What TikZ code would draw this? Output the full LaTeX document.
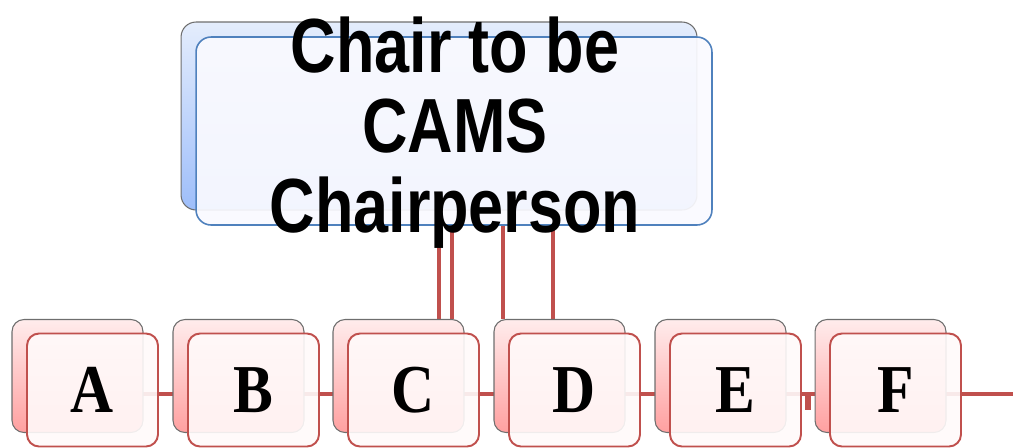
\documentclass[tikz,border=0pt]{standalone}
\usepackage{fontspec}
\setmainfont{Liberation Serif}
\newfontfamily\chairfont[FakeStretch=0.82]{Liberation Sans}
\newfontfamily\seatfont[FakeStretch=0.87]{Liberation Serif}
\usetikzlibrary{backgrounds}
\definecolor{camsred}{RGB}{192,80,77}
\definecolor{camsblue}{RGB}{79,129,189}
\definecolor{pinklt}{RGB}{255,236,236}
\definecolor{pinkdk}{RGB}{255,160,160}
\definecolor{bluelt}{RGB}{228,237,252}
\definecolor{bluedk}{RGB}{158,190,250}
\definecolor{rimgray}{RGB}{110,110,110}
\tikzset{
	seatback/.style={draw=rimgray,line width=0.6pt,rounded corners=0.24cm,
		minimum width=2.62cm,minimum height=2.26cm,
		top color=pinklt,bottom color=pinkdk},
	seat/.style={draw=camsred,line width=1.1pt,rounded corners=0.24cm,
		minimum width=2.62cm,minimum height=2.26cm,
		fill=red!2,fill opacity=0.9,text opacity=1,
		font=\seatfont\bfseries\fontsize{39pt}{39pt}\selectfont},
	chairback/.style={draw=rimgray,line width=0.6pt,rounded corners=0.3cm,
		minimum width=10.32cm,minimum height=3.76cm,
		top color=bluelt,bottom color=bluedk},
	chairbox/.style={draw=camsblue,line width=0.9pt,rounded corners=0.3cm,
		minimum width=10.32cm,minimum height=3.76cm,
		fill=blue!2,fill opacity=0.92},
	chairtext/.style={align=center,inner sep=0pt,
		font=\chairfont\bfseries\fontsize{43.7pt}{45.5pt}\selectfont},
	link/.style={draw=camsred,line width=2.6pt}
}

\begin{document}
\begin{tikzpicture}[x=0.02cm,y=-0.02cm]
		\useasboundingbox (0,0) rectangle (1013,447);
		% chairperson
		\node[chairback] (chairbk) at (439,116) {};
		\node[chairbox] (chair) at (454,131) {};
		\node[chairtext] (chairlbl) at (455,132.5) {Chair to be\\CAMS\\Chairperson};
		% seats A to F
		\node[seatback] (abk) at (77.5,376) {};
		\node[seat] (a) at (92.5,390) {A};
		\node[seatback] (bbk) at (238.5,376) {};
		\node[seat] (b) at (253.5,390) {B};
		\node[seatback] (cbk) at (398.5,376) {};
		\node[seat] (c) at (413.5,390) {C};
		\node[seatback] (dbk) at (559.5,376) {};
		\node[seat] (d) at (574.5,390) {D};
		\node[seatback] (ebk) at (720.5,376) {};
		\node[seat] (e) at (735.5,390) {E};
		\node[seatback] (fbk) at (880.5,376) {};
		\node[seat] (f) at (895.5,390) {F};
		\coordinate (rowend) at (1013,394);
		\coordinate (stub) at (808,410);
		\begin{scope}[on background layer]
			\draw[link] (a.center |- rowend) -- (rowend);
			\draw[link,line width=3.6pt] (stub |- rowend) -- (stub);
			\draw[link] (439,0 |- chair.south) -- (439,0 |- cbk.north);
			\draw[link] (452,0 |- chair.south) -- (452,0 |- cbk.north);
			\draw[link] (503,0 |- chair.south) -- (503,0 |- dbk.north);
			\draw[link] (553,0 |- chair.south) -- (553,0 |- dbk.north);
		\end{scope}
\end{tikzpicture}
\end{document}
